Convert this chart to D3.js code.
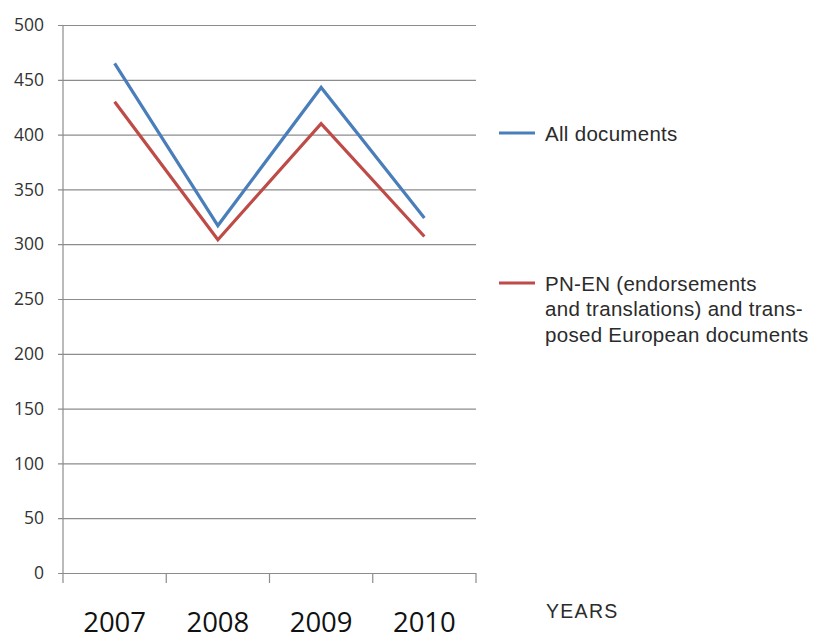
<!DOCTYPE html>
<html>
<head>
<meta charset="utf-8">
<script src="https://cdn.jsdelivr.net/npm/d3@7"></script>
<style>
  body { margin: 0; background: #fff; }
  svg { display: block; }
</style>
</head>
<body>
<div class="chart"></div>
<script>
// data
var years = ["2007", "2008", "2009", "2010"];
var allDocs = [465, 317, 443, 324];
var pnEn = [430, 304, 410, 307];
var yTicks = [0, 50, 100, 150, 200, 250, 300, 350, 400, 450, 500];
var seriesNames = ["All documents", "PN-EN (endorsements|and translations) and trans-|posed European documents"];
var seriesColors = ["#4a7ebb", "#be4b48"];

var svgWidth = 813;
var svgHeight = 639;
var margin = { top: 25, left: 63 };
var width = 413;
var height = 548;

var svg = d3.select(".chart")
  .append("svg")
  .attr("width", svgWidth)
  .attr("height", svgHeight);

var chart = svg.append("g")
  .attr("transform", "translate(" + margin.left + "," + margin.top + ")");

var xScale = d3.scaleBand().domain(years).range([0, width]);
var yScale = d3.scaleLinear().domain([0, 500]).range([height, 0]);

// gridlines + y labels
var yAxis = d3.axisLeft(yScale)
  .tickValues(yTicks)
  .tickSize(-(width + 5))
  .tickPadding(14);

var yG = chart.append("g")
  .attr("transform", "translate(-5,0)")
  .call(yAxis);
yG.select(".domain").remove();
yG.selectAll(".tick line").attr("stroke", "#8c8c8c").attr("stroke-width", 1.2);
yG.selectAll(".tick text")
  .attr("font-family", "'Open Sans', sans-serif")
  .attr("font-size", "17.5px")
  .attr("fill", "#333");

// vertical axis line
chart.append("line")
  .attr("x1", 0).attr("x2", 0)
  .attr("y1", 0).attr("y2", height + 10)
  .attr("stroke", "#8c8c8c").attr("stroke-width", 1.2);

// x ticks at band edges
var edges = years.map(function (d) { return xScale(d); });
edges.push(xScale(years[years.length - 1]) + xScale.bandwidth());
chart.selectAll(".xtick")
  .data(edges.slice(1))
  .enter()
  .append("line")
  .attr("class", "xtick")
  .attr("x1", function (d) { return d; })
  .attr("x2", function (d) { return d; })
  .attr("y1", height)
  .attr("y2", height + 10)
  .attr("stroke", "#8c8c8c").attr("stroke-width", 1.2);

// year labels
chart.selectAll(".year")
  .data(years)
  .enter()
  .append("text")
  .attr("class", "year")
  .attr("x", function (d) { return xScale(d) + xScale.bandwidth() / 2; })
  .attr("y", height + 59)
  .attr("text-anchor", "middle")
  .attr("font-family", "'Open Sans', sans-serif")
  .attr("font-size", "27.5px")
  .attr("fill", "#111")
  .text(function (d) { return d; });

// lines
var line = d3.line()
  .x(function (d, i) { return xScale(years[i]) + xScale.bandwidth() / 2; })
  .y(function (d) { return yScale(d); });

[allDocs, pnEn].forEach(function (values, i) {
  chart.append("path")
    .datum(values)
    .attr("fill", "none")
    .attr("stroke", seriesColors[i])
    .attr("stroke-width", 3.2)
    .attr("stroke-linejoin", "miter")
    .attr("d", line);
});

// legend
var legendY = [133, 283];
seriesNames.forEach(function (name, i) {
  var g = svg.append("g").attr("transform", "translate(499," + legendY[i] + ")");
  g.append("line")
    .attr("x1", 0).attr("x2", 36)
    .attr("stroke", seriesColors[i])
    .attr("stroke-width", 3.2);
  var t = g.append("text")
    .attr("x", 46)
    .attr("y", 7.5)
    .attr("font-family", "'Liberation Sans', Arial, sans-serif")
    .attr("font-size", "20.5px")
    .attr("letter-spacing", "0.3px")
    .attr("fill", "#2b2b2b");
  name.split("|").forEach(function (part, j) {
    t.append("tspan")
      .attr("x", 46)
      .attr("dy", j === 0 ? 0 : 25.5)
      .text(part);
  });
});

svg.append("text")
  .attr("x", 546)
  .attr("y", 618)
  .attr("font-family", "'Liberation Sans', Arial, sans-serif")
  .attr("font-size", "19.5px")
  .attr("letter-spacing", "1.3px")
  .attr("fill", "#2b2b2b")
  .text("YEARS");
</script>
</body>
</html>
